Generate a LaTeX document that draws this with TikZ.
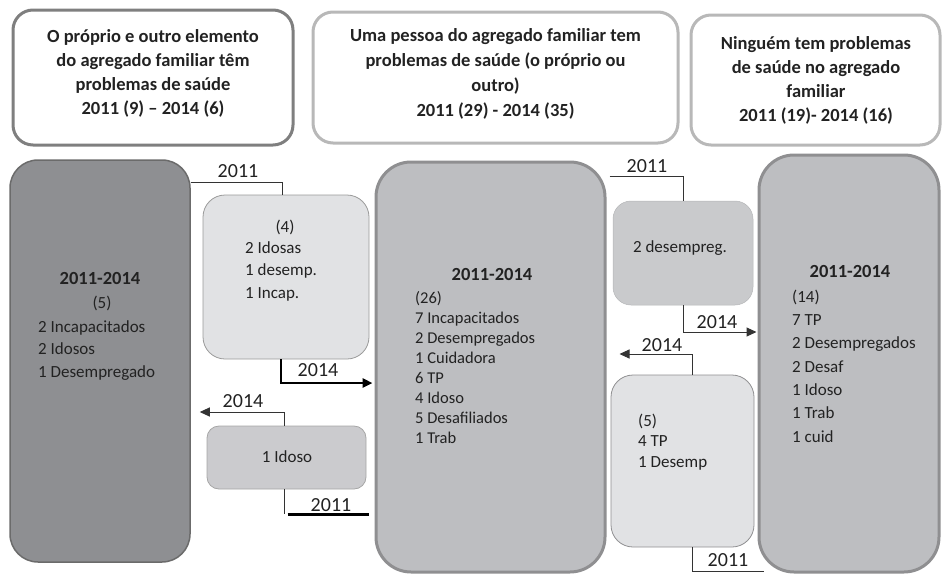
\documentclass[tikz,border=0pt]{standalone}
\usepackage{fontspec}
\setmainfont{Carlito}
\usetikzlibrary{calc,arrows.meta}
\definecolor{txt}{HTML}{222222}
\definecolor{lin}{HTML}{333333}
\definecolor{topdark}{HTML}{7F7F7F}
\definecolor{toplight}{HTML}{B8B8B8}
\definecolor{darkfill}{HTML}{8E8F92}
\definecolor{darkline}{HTML}{6B6B6B}
\definecolor{midfill}{HTML}{BDBEC1}
\definecolor{midline}{HTML}{8F8F91}
\definecolor{palefill}{HTML}{E1E2E4}
\definecolor{paleline}{HTML}{9A9A9A}
\definecolor{greyfill}{HTML}{CBCBCE}
\definecolor{greyline}{HTML}{A6A6A6}
\definecolor{dfill}{HTML}{C9CACC}
\newcommand\fst{\rule{0pt}{18pt}}
\begin{document}
\begin{tikzpicture}[x=1pt,y=-1pt,
  topbox/.style={rectangle, inner sep=0, fill=white, line width=3pt, rounded corners=20pt},
  ttl/.style={font=\fontsize{18.5}{24}\selectfont\bfseries, align=center, inner sep=0, anchor=north, text=txt},
  bold/.style={font=\fontsize{18.5}{24}\selectfont\bfseries, inner sep=0, anchor=base, text=txt},
  one/.style={font=\fontsize{17}{22}\selectfont, inner sep=0, anchor=base, text=txt},
  body/.style={font=\fontsize{17}{22.5}\selectfont, align=left, inner sep=0, anchor=north west, text=txt},
  lbl/.style={font=\fontsize{20}{22}\selectfont, inner sep=0, anchor=base, text=txt},
  conn/.style={draw=lin, line width=1pt},
  thk/.style={draw=black, line width=2.5pt},
  arr/.style={-{Triangle[length=10pt,width=9pt]}}]
\useasboundingbox (0,0) rectangle (943,574);

% top boxes
\node[topbox, draw=topdark, minimum width=280pt, minimum height=135pt] (T1) at (153,77.5) {};
\node[topbox, draw=toplight, minimum width=365pt, minimum height=131pt] (T2) at (495.5,77.5) {};
\node[topbox, draw=toplight, minimum width=249pt, minimum height=130pt] (T3) at (815.5,80) {};

% large boxes
\node[rectangle, inner sep=0, fill=darkfill, draw=darkline, line width=1.5pt, rounded corners=28pt,
      minimum width=180pt, minimum height=402pt] (L) at (100,361) {};
\node[rectangle, inner sep=0, fill=midfill, draw=midline, line width=3pt, rounded corners=35pt,
      minimum width=229pt, minimum height=410pt] (M) at (490.5,367) {};
\node[rectangle, inner sep=0, fill=midfill, draw=midline, line width=3pt, rounded corners=35pt,
      minimum width=180pt, minimum height=417pt] (R) at (849,363.5) {};

% small boxes
\node[rectangle, inner sep=0, fill=palefill, draw=paleline, line width=0.8pt, rounded corners=22pt,
      minimum width=166pt, minimum height=164pt] (B4) at (286,277) {};
\node[rectangle, inner sep=0, fill=greyfill, draw=greyline, line width=0.8pt, rounded corners=12pt,
      minimum width=159pt, minimum height=63pt] (I) at (286.5,457.5) {};
\node[rectangle, inner sep=0, fill=dfill, draw=dfill!90!black, line width=0.5pt, rounded corners=18pt,
      minimum width=140pt, minimum height=104pt] (D) at (683,253) {};
\node[rectangle, inner sep=0, fill=palefill, draw=midline, line width=0.8pt, rounded corners=22pt,
      minimum width=143pt, minimum height=172pt] (F) at (682.5,461) {};

% connectors
\draw[conn] ($(L.north east)+(0,23)$) -| ($(B4.north)+(-4,0)$);
\draw[thk, arr] ($(B4.south)+(-5,0)$) |- ($(M.west)+(-2,16)$);
\draw[conn, arr] ($(I.north)+(-2,0)$) |- ($(L.east)+(9,51)$);
\draw[conn] ($(I.south)+(-2,0)$) -- ++(0,25) coordinate (c4);
\draw[thk] ($(c4)+(3,0)$) -- ($(M.west |- c4)+(-6,0)$);
\draw[conn] ($(M.north east)+(3,16)$) -| (D.north);
\draw[conn, arr] (D.south) |- ($(R.west)+(-1,-31.5)$);
\draw[conn, arr] ($(F.north)+(9.5,0)$) |- ($(M.east)+(13,-13)$);
\draw[conn] ($(F.south)+(9.5,0)$) |- ($(R.south west)+(6,-2)$);

% connector labels
\node[lbl] (a1) at (238,177.5) {2011};
\node[lbl] (a2) at (318,376) {2014};
\node[lbl] (a3) at (243,407) {2014};
\node[lbl] (a4) at (331,511.5) {2011};
\node[lbl] (a5) at (647,172.5) {2011};
\node[lbl] (a6) at (717,328) {2014};
\node[lbl] (a7) at (662,351.5) {2014};
\node[lbl] (a8) at (728,566.5) {2011};

% top texts
\node[ttl] (T1t) at (153,24) {\fst O próprio e outro elemento\\do agregado familiar têm\\problemas de saúde\\2011 (9) – 2014 (6)};
\node[ttl, font=\fontsize{18.5}{25}\selectfont\bfseries] (T2t) at (495.5,23) {\fst Uma pessoa do agregado familiar tem\\problemas de saúde (o próprio ou\\outro)\\2011 (29) - 2014 (35)};
\node[ttl] (T3t) at (816,31) {\fst Ninguém tem problemas\\de saúde no agregado\\familiar\\2011 (19)- 2014 (16)};

% left box texts
\node[bold] (Lt) at (100,284) {2011-2014};
\node[one] (L5) at (102,308) {(5)};
\node[body] (Ll) at (38,314) {\fst 2 Incapacitados\\2 Idosos\\1 Desempregado};

% box (4)
\node[one] (B4n) at (285,232) {(4)};
\node[body] (B4l) at (245,235) {\fst 2 Idosas\\1 desemp.\\1 Incap.};

% idoso box
\node[one] (It) at (287,462.5) {1 Idoso};

% middle box
\node[bold] (Mt) at (492,280) {2011-2014};
\node[body, font=\fontsize{16.5}{20}\selectfont] (Ml) at (415,285) {\fst (26)\\7 Incapacitados\\2 Desempregados\\1 Cuidadora\\6 TP\\4 Idoso\\5 Desafiliados\\1 Trab};

% desempreg box
\node[one] (Dt) at (680,252) {2 desempreg.};

% box (5)
\node[body, font=\fontsize{17}{20.5}\selectfont] (Fl) at (638,408) {\fst (5)\\4 TP\\1 Desemp};

% right box
\node[bold] (Rt) at (850,277) {2011-2014};
\node[body, font=\fontsize{17}{23.3}\selectfont] (Rl) at (792,284) {\fst (14)\\7 TP\\2 Desempregados\\2 Desaf\\1 Idoso\\1 Trab\\1 cuid};
\end{tikzpicture}
\end{document}
